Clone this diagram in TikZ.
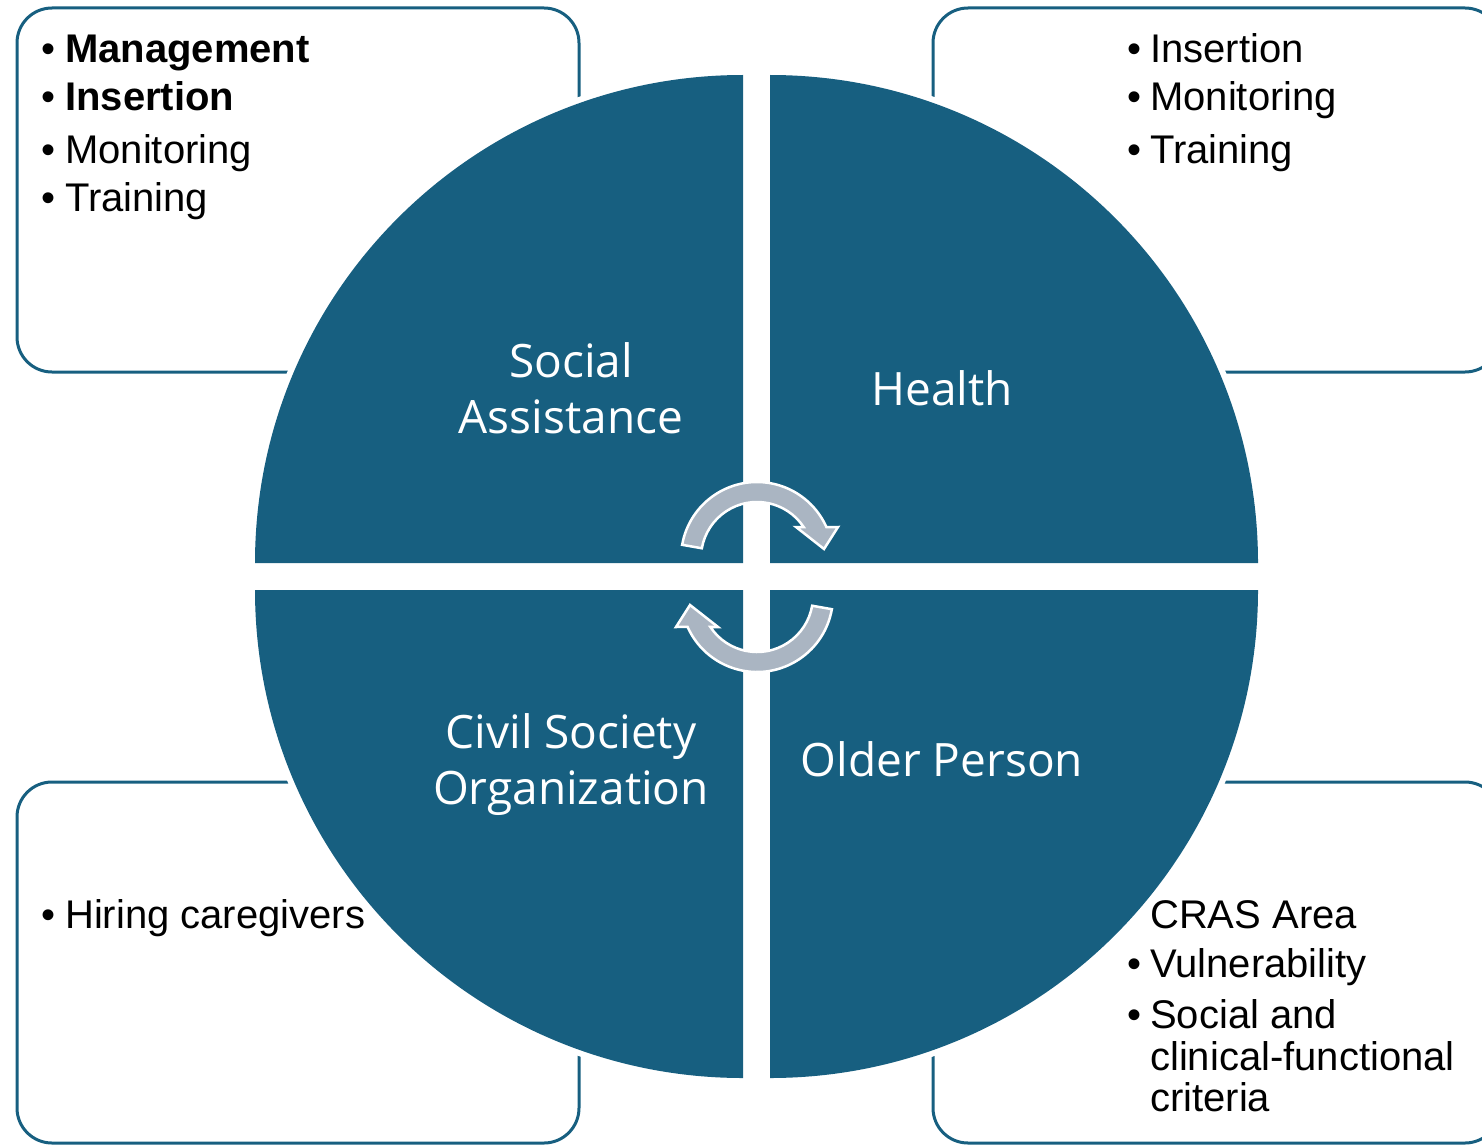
\documentclass[tikz,border=0pt]{standalone}
\usepackage{fontspec}
\setmainfont{Liberation Sans}
\newfontfamily\labelfont{Open Sans}
\definecolor{qblue}{HTML}{175F80}
\definecolor{arrgray}{HTML}{AAB5C2}
\begin{document}
\begin{tikzpicture}[x=1pt,y=-1pt,
  box/.style={draw=qblue, line width=3pt, rounded corners=35pt},
  bul/.style={anchor=base west, inner sep=0pt, font=\fontsize{40}{48}\selectfont},
  qlabel/.style={anchor=base, inner sep=0pt, text=white, font=\labelfont\fontsize{46}{56}\selectfont},
  quad/.style={fill=qblue},
  gapfill/.style={fill=white},
  arr/.style={fill=arrgray, draw=white, line width=2.5pt, line join=miter}]
\useasboundingbox (0,0) rectangle (1482,1145);
\clip (0,0) rectangle (1482,1145);
% boxes
\draw[box] (17,8) rectangle (579,372);
\draw[box] (933,8) rectangle (1500,372);
\draw[box] (17,782) rectangle (579,1143);
\draw[box] (933,782) rectangle (1500,1143);
% white halo of quadrants
\fill[gapfill] (743,563) -- (249,563) arc[start angle=180,end angle=270,radius=494] -- cycle;
\fill[gapfill] (770,563) -- (770,69) arc[start angle=270,end angle=360,radius=494] -- cycle;
\fill[gapfill] (770,590) -- (1264,590) arc[start angle=0,end angle=90,radius=494] -- cycle;
\fill[gapfill] (743,590) -- (743,1084) arc[start angle=90,end angle=180,radius=494] -- cycle;
% quadrants
\fill[quad] (743,563) -- (255,563) arc[start angle=180,end angle=270,radius=488] -- cycle;
\fill[quad] (770,563) -- (770,75) arc[start angle=270,end angle=360,radius=488] -- cycle;
\fill[quad] (770,590) -- (1258,590) arc[start angle=0,end angle=90,radius=488] -- cycle;
\fill[quad] (743,590) -- (743,1078) arc[start angle=90,end angle=180,radius=488] -- cycle;
% cycle arrows
\begin{scope}[shift={(757,558)}, yscale=-1]
  \path[arr] (170:76) arc[start angle=170, end angle=24, radius=76] -- (81,31) -- (67,9) -- (39,31) -- (33.6:56) arc[start angle=33.6, end angle=170, radius=56] -- cycle;
\end{scope}
\begin{scope}[rotate around={180:(757,577)}]
\begin{scope}[shift={(757,558)}, yscale=-1]
  \path[arr] (170:76) arc[start angle=170, end angle=24, radius=76] -- (81,31) -- (67,9) -- (39,31) -- (33.6:56) arc[start angle=33.6, end angle=170, radius=56] -- cycle;
\end{scope}
\end{scope}
% quadrant labels
\node[qlabel] (sa1) at (571,377) {Social};
\node[qlabel] (sa2) at (571,433) {Assistance};
\node[qlabel] (he) at (942,405) {Health};
\node[qlabel] (cs1) at (571,748) {Civil Society};
\node[qlabel] (cs2) at (571,804) {Organization};
\node[qlabel] (op) at (942,776) {Older Person};
% top-left box text
\node[bul] (tlb1) at (41,63) {•};
\node[bul] (tlt1) at (65,63) {\textbf{Management}};
\node[bul] (tlb2) at (41,111) {•};
\node[bul] (tlt2) at (65,111) {\textbf{Insertion}};
\node[bul] (tlb3) at (41,163) {•};
\node[bul] (tlt3) at (65,163) {Monitoring};
\node[bul] (tlb4) at (41,211) {•};
\node[bul] (tlt4) at (65,211) {Training};
% top-right box text
\node[bul] (trb1) at (1127,63) {•};
\node[bul] (trt1) at (1150,63) {Insertion};
\node[bul] (trb2) at (1127,111) {•};
\node[bul] (trt2) at (1150,111) {Monitoring};
\node[bul] (trb3) at (1127,163) {•};
\node[bul] (trt3) at (1150,163) {Training};
% bottom-left box text
\node[bul] (blb1) at (41,928) {•};
\node[bul] (blt1) at (65,928) {Hiring caregivers};
% bottom-right box text
\node[bul] (brt0) at (1150,928) {CRAS Area};
\node[bul] (brb1) at (1127,977) {•};
\node[bul] (brt1) at (1150,977) {Vulnerability};
\node[bul] (brb2) at (1127,1028) {•};
\node[bul] (brt2) at (1150,1028) {Social and};
\node[bul] (brt3) at (1150,1070) {clinical-functional};
\node[bul] (brt4) at (1150,1111) {criteria};
\end{tikzpicture}
\end{document}
